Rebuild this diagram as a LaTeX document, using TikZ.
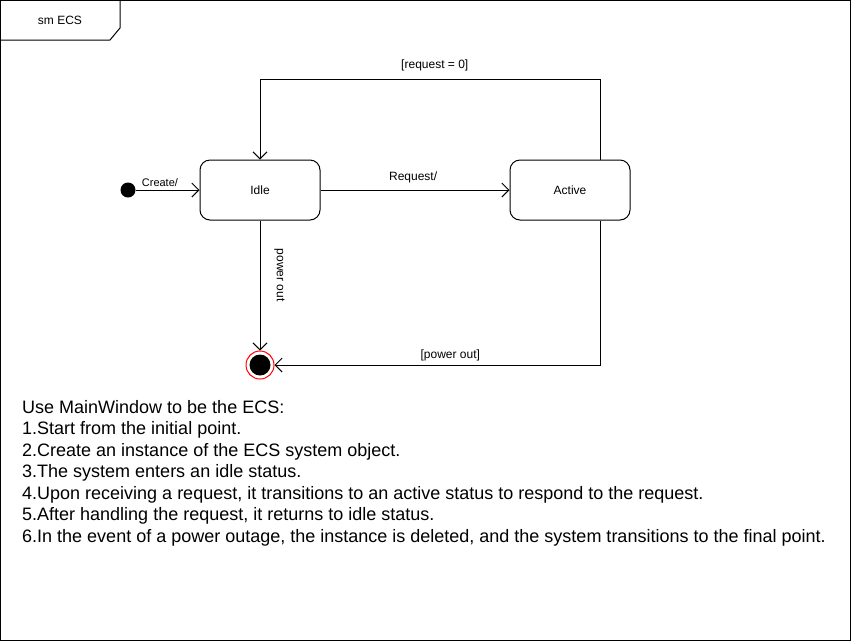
\documentclass[tikz,border=0pt]{standalone}
\usepackage{fontspec}
\setmainfont{Liberation Sans}
\usetikzlibrary{arrows.meta}

\begin{document}
\begin{tikzpicture}[
  x=1pt,
  y=-1pt,
  state/.style={
    draw=black,
    line width=1pt,
    rounded corners=10pt,
    minimum width=120pt,
    minimum height=60pt,
    font=\fontsize{12}{14}\selectfont
  },
  trans/.style={
    draw=black,
    line width=1pt,
    -{Straight Barb[length=7pt,width=14pt,line width=1pt]}
  },
  guard/.style={
    font=\fontsize{12}{14}\selectfont,
    inner sep=2pt
  }
]

\useasboundingbox (0,0) rectangle (851,641);

% frame and its tab
\draw[line width=1pt] (0.5,0.5) rectangle (850.5,640.5);
\draw[line width=1pt] (0.5,40) -- (110,40) -- (120,28) -- (120,0.5);
\node[font=\fontsize{12}{14}\selectfont] (tab) at (60,20) {sm ECS};

% states
\node[circle, fill=black, inner sep=0pt, minimum size=15pt] (init) at (128,190) {};
\node[state] (idle) at (260,190) {Idle};
\node[state] (active) at (570,190) {Active};
\node[circle, draw=red, line width=1pt, fill=white, inner sep=0pt, minimum size=28pt] (final) at (260,365) {};
\node[circle, fill=black, inner sep=0pt, minimum size=21pt] (finalin) at (final) {};

% transitions
\draw[trans] (init) -- node[guard, above, pos=0.38, yshift=1pt, font=\fontsize{11}{13}\selectfont] {Create/} (idle);
\draw[trans] (idle) -- node[guard, above, pos=0.49, yshift=5pt] {Request/} (active);
\draw[trans] ([xshift=30pt]active.north) -- ++(0,-80)
  -| node[guard, above, pos=0.243, yshift=6pt] {[request = 0]} (idle.north);
\draw[trans] (idle.south) -- node[guard, pos=0.42, rotate=-90, anchor=south, yshift=12pt] {power out} (final.north);
\draw[trans] ([xshift=30pt]active.south) |- node[guard, above, pos=0.73, yshift=2pt] {[power out]} (final.east);

% description
\node[anchor=north west, align=left, inner sep=0pt,
  font=\fontsize{18}{21.5}\selectfont] (notes) at (22,400) {%
Use MainWindow to be the ECS:\\
1.Start from the initial point.\\
2.Create an instance of the ECS system object.\\
3.The system enters an idle status.\\
4.Upon receiving a request, it transitions to an active status to respond to the request.\\
5.After handling the request, it returns to idle status.\\
6.In the event of a power outage, the instance is deleted, and the system transitions to the final point.};

\end{tikzpicture}
\end{document}
